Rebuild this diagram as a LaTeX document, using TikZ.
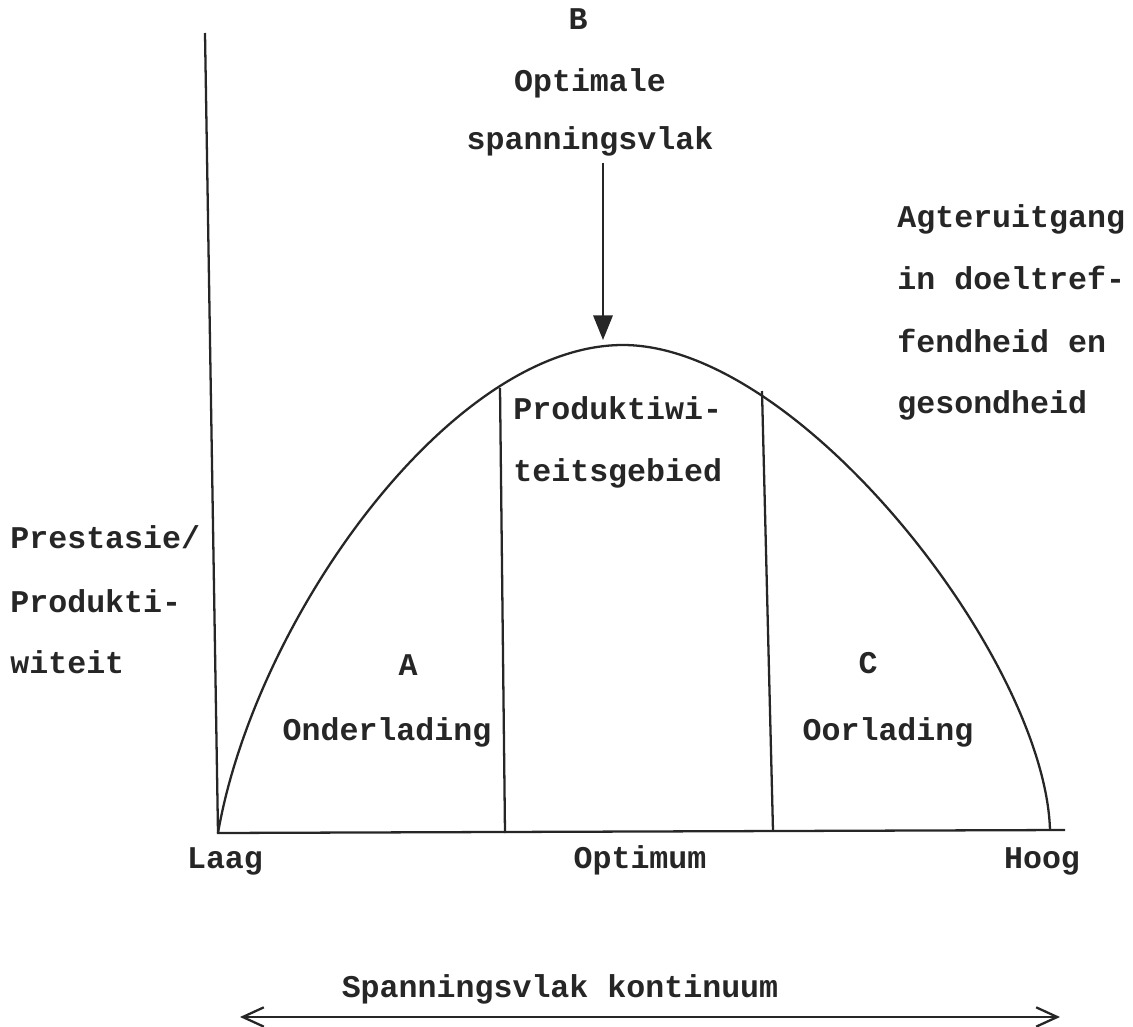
\documentclass[tikz,border=0pt]{standalone}
\usepackage{fontspec}
\setmonofont{Liberation Mono}
\usetikzlibrary{arrows.meta}
\definecolor{ink}{HTML}{262626}

\begin{document}
\begin{tikzpicture}[x=0.02cm,y=-0.02cm,
    lbl/.style={font=\ttfamily\bfseries\fontsize{18}{35}\selectfont, text=ink, inner sep=0pt, anchor=base},
    lblw/.style={lbl, anchor=base west},
    ln/.style={draw=ink, line width=1.3pt},
  ]
\useasboundingbox (0,0) rectangle (1133,1027);

% axes
\coordinate (ytop)   at (205,33);
\coordinate (origin) at (218,833);
\coordinate (xend)   at (1065,830);
\coordinate (top)    at (623,345);
\coordinate (hoogend) at (1050,830);
\draw[ln] (ytop) -- (origin) -- (xend);

% curve
\draw[ln] (origin) .. controls (255,620) and (450,345) .. (top)
                   .. controls (800,345) and (1045,660) .. (hoogend);

% zone borders
\coordinate (lt) at (500,388);
\coordinate (lb) at (505,833);
\coordinate (rt) at (762,391);
\coordinate (rb) at (773,831);
\draw[ln] (lt) -- (lb);
\draw[ln] (rt) -- (rb);

% top labels and arrow
\node[lbl] (b)    at (578,30)  {B};
\node[lbl] (opt)  at (590,92)  {Optimale};
\node[lbl] (span) at (590,150) {spanningsvlak};
\coordinate (peak) at (603,340);
\draw[ln, -{Triangle[length=14pt,width=11pt]}] (603,163) -- (peak);

% zone texts
\node[lblw] (prod1) at (513,419) {Produktiwi-};
\node[lblw] (prod2) at (513,481) {teitsgebied};
\node[lbl]  (a)     at (408,675) {A};
\node[lbl]  (onder) at (387,740) {Onderlading};
\node[lbl]  (c)     at (868,673) {C};
\node[lbl]  (oor)   at (888,740) {Oorlading};

% right text
\node[lblw] (ag1) at (897,228) {Agteruitgang};
\node[lblw] (ag2) at (897,290) {in doeltref-};
\node[lblw] (ag3) at (897,353) {fendheid en};
\node[lblw] (ag4) at (897,413) {gesondheid};

% left text
\node[lblw] (pr1) at (10,548) {Prestasie/};
\node[lblw] (pr2) at (10,612) {Produkti-};
\node[lblw] (pr3) at (10,673) {witeit};

% axis labels
\node[lbl] (laag) at (225,868)  {Laag};
\node[lbl] (optm) at (640,868)  {Optimum};
\node[lbl] (hoog) at (1042,868) {Hoog};

% continuum
\node[lbl] (kont) at (560,997) {Spanningsvlak kontinuum};
\coordinate (kl) at (240,1017);
\coordinate (kr) at (1060,1017);
\draw[ln, {Straight Barb[length=12pt,width=11pt]}-{Straight Barb[length=12pt,width=11pt]}] (kl) -- (kr);
\end{tikzpicture}
\end{document}
